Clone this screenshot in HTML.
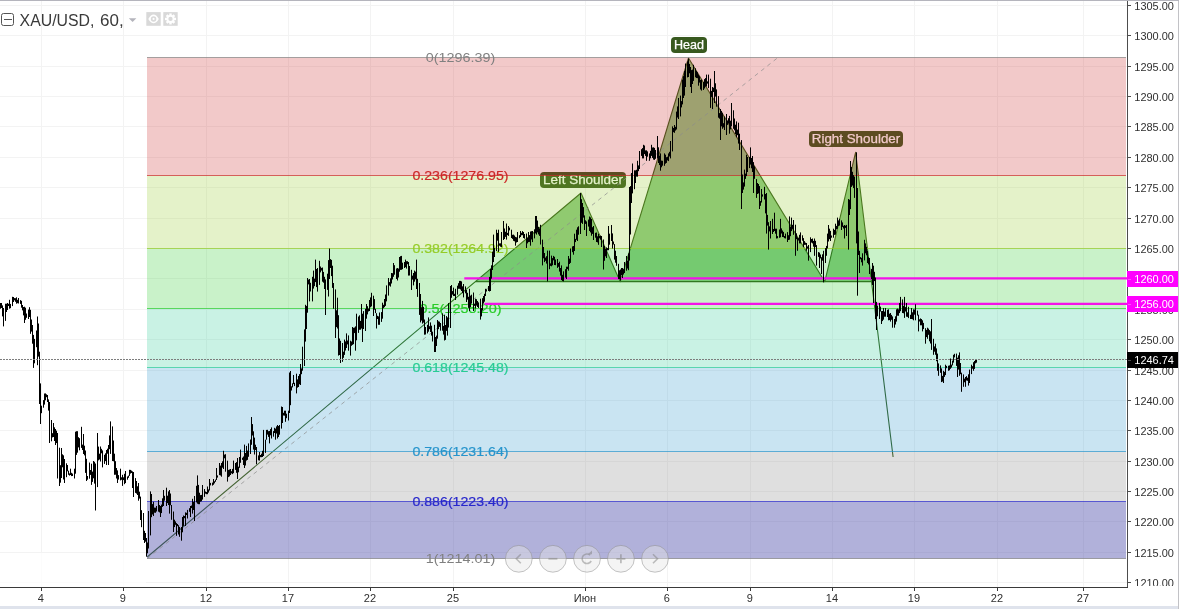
<!DOCTYPE html>
<html><head><meta charset="utf-8"><title>XAU/USD</title>
<style>html,body{margin:0;padding:0;background:#fff;overflow:hidden}body{width:1179px;height:609px;font-family:"Liberation Sans",sans-serif}svg{display:block;will-change:transform}</style>
</head><body>
<svg width="1179" height="609" viewBox="0 0 1179 609" shape-rendering="auto">
<rect x="0" y="0" width="1179" height="609" fill="#ffffff"/>
<path d="M41.5 1V587 M123.5 1V587 M206.5 1V587 M288.5 1V587 M370.5 1V587 M453.5 1V587 M585.5 1V587 M667.5 1V587 M750.5 1V587 M832.5 1V587 M914.5 1V587 M997.5 1V587 M1083.5 1V587 M0 582.5H1127 M0 552.5H1127 M0 521.5H1127 M0 491.5H1127 M0 461.5H1127 M0 430.5H1127 M0 400.5H1127 M0 370.5H1127 M0 339.5H1127 M0 309.5H1127 M0 278.5H1127 M0 248.5H1127 M0 218.5H1127 M0 187.5H1127 M0 157.5H1127 M0 126.5H1127 M0 96.5H1127 M0 66.5H1127 M0 35.5H1127 M0 5.5H1127" stroke="#f3f3f3" stroke-width="1" fill="none" shape-rendering="crispEdges"/>
<g>
<path d="M475.3 281.7L581.0 193.0L620.2 281.7L688.5 58.0L824.8 281.7L855.6 152.3L871.5 281.7Z" fill="#8fca88"/>
<path d="M147.2 557.0L581.0 193.0L620.2 281.7L688.5 58.0L824.8 281.7L855.6 152.3L893.1 457.0" fill="none" stroke="#335c1c" stroke-width="1.1" stroke-linejoin="round"/>
<path d="M475.3 281.7H871.5" stroke="#335c1c" stroke-width="1.2" fill="none"/>
<rect x="671" y="37" width="36" height="16" rx="4" ry="4" fill="#38591f"/>
<text x="689.0" y="49.4" font-family="Liberation Sans, sans-serif" font-size="12.5" fill="#ffffff" stroke="#ffffff" stroke-width="0.25" text-anchor="middle" textLength="30" lengthAdjust="spacingAndGlyphs">Head</text>
<rect x="540" y="172" width="86" height="16" rx="4" ry="4" fill="#38591f"/>
<text x="583.0" y="184.4" font-family="Liberation Sans, sans-serif" font-size="12.5" fill="#ffffff" stroke="#ffffff" stroke-width="0.25" text-anchor="middle" textLength="80" lengthAdjust="spacingAndGlyphs">Left Shoulder</text>
<rect x="809" y="131" width="94" height="16" rx="4" ry="4" fill="#38591f"/>
<text x="856.0" y="143.4" font-family="Liberation Sans, sans-serif" font-size="12.5" fill="#ffffff" stroke="#ffffff" stroke-width="0.25" text-anchor="middle" textLength="88.5" lengthAdjust="spacingAndGlyphs">Right Shoulder</text>
</g>
<rect x="0" y="553" width="146" height="34" fill="rgba(255,255,255,0.7)"/>
<rect x="147" y="57.50" width="979" height="118.00" fill="rgba(204,40,40,0.25)"/>
<rect x="147" y="175.50" width="979" height="73.00" fill="rgba(149,204,40,0.25)"/>
<rect x="147" y="248.50" width="979" height="60.00" fill="rgba(40,204,40,0.25)"/>
<rect x="147" y="308.50" width="979" height="59.00" fill="rgba(40,204,149,0.25)"/>
<rect x="147" y="367.50" width="979" height="84.00" fill="rgba(40,149,204,0.25)"/>
<rect x="147" y="451.50" width="979" height="107.00" fill="rgba(128,128,128,0.25)"/>
<rect x="147" y="501.50" width="979" height="57.00" fill="rgba(40,40,204,0.25)"/>
<path d="M147.2 558.5L778 57.5" stroke="#8c8c8c" stroke-opacity="0.7" stroke-width="1" stroke-dasharray="4 4" fill="none"/>
<path d="M147 57.5H1126" stroke="rgba(128,128,128,0.7)" stroke-width="1" fill="none" shape-rendering="crispEdges"/>
<path d="M147 175.5H1126" stroke="rgba(204,40,40,0.7)" stroke-width="1" fill="none" shape-rendering="crispEdges"/>
<path d="M147 248.5H1126" stroke="rgba(149,204,40,0.7)" stroke-width="1" fill="none" shape-rendering="crispEdges"/>
<path d="M147 308.5H1126" stroke="rgba(40,204,40,0.7)" stroke-width="1" fill="none" shape-rendering="crispEdges"/>
<path d="M147 367.5H1126" stroke="rgba(40,204,149,0.7)" stroke-width="1" fill="none" shape-rendering="crispEdges"/>
<path d="M147 451.5H1126" stroke="rgba(40,149,204,0.7)" stroke-width="1" fill="none" shape-rendering="crispEdges"/>
<path d="M147 558.5H1126" stroke="rgba(128,128,128,0.7)" stroke-width="1" fill="none" shape-rendering="crispEdges"/>
<path d="M147 501.5H1126" stroke="rgba(40,40,204,0.7)" stroke-width="1" fill="none" shape-rendering="crispEdges"/>
<text x="460.5" y="62.3" font-family="Liberation Sans, sans-serif" font-size="13" fill="rgb(128,128,128)" stroke="rgb(128,128,128)" stroke-width="0.0" text-anchor="middle" textLength="69.5" lengthAdjust="spacingAndGlyphs">0(1296.39)</text>
<text x="460.5" y="180.3" font-family="Liberation Sans, sans-serif" font-size="13" fill="rgb(204,40,40)" stroke="rgb(204,40,40)" stroke-width="0.2" text-anchor="middle" textLength="96.2" lengthAdjust="spacingAndGlyphs">0.236(1276.95)</text>
<text x="460.5" y="253.3" font-family="Liberation Sans, sans-serif" font-size="13" fill="rgb(149,204,40)" stroke="rgb(149,204,40)" stroke-width="0.2" text-anchor="middle" textLength="96.2" lengthAdjust="spacingAndGlyphs">0.382(1264.92)</text>
<text x="460.5" y="313.3" font-family="Liberation Sans, sans-serif" font-size="13" fill="rgb(40,204,40)" stroke="rgb(40,204,40)" stroke-width="0.2" text-anchor="middle" textLength="82" lengthAdjust="spacingAndGlyphs">0.5(1255.20)</text>
<text x="460.5" y="372.3" font-family="Liberation Sans, sans-serif" font-size="13" fill="rgb(40,204,149)" stroke="rgb(40,204,149)" stroke-width="0.2" text-anchor="middle" textLength="96.2" lengthAdjust="spacingAndGlyphs">0.618(1245.48)</text>
<text x="460.5" y="456.3" font-family="Liberation Sans, sans-serif" font-size="13" fill="rgb(40,149,204)" stroke="rgb(40,149,204)" stroke-width="0.2" text-anchor="middle" textLength="96.2" lengthAdjust="spacingAndGlyphs">0.786(1231.64)</text>
<text x="460.5" y="563.3" font-family="Liberation Sans, sans-serif" font-size="13" fill="rgb(128,128,128)" stroke="rgb(128,128,128)" stroke-width="0.0" text-anchor="middle" textLength="69.5" lengthAdjust="spacingAndGlyphs">1(1214.01)</text>
<text x="460.5" y="506.3" font-family="Liberation Sans, sans-serif" font-size="13" fill="rgb(40,40,204)" stroke="rgb(40,40,204)" stroke-width="0.2" text-anchor="middle" textLength="96.2" lengthAdjust="spacingAndGlyphs">0.886(1223.40)</text>
<path d="M464.3 278.4H1127" stroke="#f312e8" stroke-width="2.2" fill="none"/>
<path d="M484.5 303.8H1127" stroke="#f312e8" stroke-width="2.2" fill="none"/>
<path d="M0.5 303.0V308.7M1.5 303.0V308.0M2.5 305.4V316.4M3.5 308.0V326.4M5.5 303.7V320.9M6.5 303.7V312.0M7.5 303.0V310.0M8.5 303.8V306.0M9.5 299.8V308.7M10.5 303.9V308.2M12.5 296.8V306.1M13.5 297.0V302.0M14.5 298.1V300.3M15.5 298.2V301.8M16.5 297.3V303.7M17.5 299.8V303.2M18.5 298.0V303.5M20.5 300.1V303.9M21.5 300.8V307.7M22.5 305.0V310.4M23.5 307.0V315.4M24.5 306.7V323.0M25.5 307.7V319.8M26.5 313.5V317.8M28.5 309.6V319.0M29.5 307.2V317.0M30.5 309.8V333.8M31.5 319.5V331.6M32.5 325.0V343.7M33.5 334.9V367.9M34.5 338.9V363.3M36.5 330.5V347.2M37.5 316.5V365.2M38.5 323.5V356.6M39.5 351.7V404.0M40.5 383.4V424.0M41.5 405.7V413.2M43.5 400.1V407.7M44.5 393.5V404.6M45.5 393.4V400.3M46.5 394.3V397.2M47.5 395.0V402.0M48.5 399.4V410.6M49.5 402.0V443.0M51.5 420.0V441.3M52.5 433.2V437.4M53.5 423.0V437.0M54.5 427.3V441.0M55.5 429.0V445.0M56.5 430.7V443.1M57.5 433.0V478.5M59.5 447.7V486.0M60.5 465.2V482.7M61.5 448.0V478.0M62.5 454.3V467.3M63.5 455.3V479.5M64.5 459.0V483.0M66.5 463.3V477.2M67.5 465.0V471.3M68.5 470.7V474.8M69.5 473.4V475.6M70.5 468.7V475.0M71.5 472.8V476.1M72.5 473.6V476.0M74.5 468.7V478.5M75.5 431.7V473.7M76.5 431.2V454.9M77.5 431.2V452.7M78.5 437.2V447.4M79.5 438.2V450.3M81.5 426.8V447.9M82.5 444.6V450.0M83.5 434.0V454.0M84.5 445.7V455.4M85.5 450.5V472.9M86.5 458.8V481.0M87.5 476.0V479.7M89.5 462.5V478.7M90.5 470.0V474.9M91.5 463.7V484.9M92.5 471.6V481.9M93.5 461.0V478.3M94.5 461.8V483.6M95.5 463.5V510.5M97.5 433.0V487.1M98.5 446.6V460.4M99.5 453.7V459.5M100.5 446.5V461.5M101.5 448.8V453.3M102.5 450.4V467.4M104.5 454.8V463.9M105.5 453.3V461.1M106.5 450.0V465.0M107.5 448.7V453.7M108.5 445.0V465.0M109.5 435.4V449.2M110.5 421.4V453.9M112.5 426.4V461.0M113.5 440.5V461.3M114.5 453.7V474.8M115.5 461.2V474.7M116.5 468.0V478.5M117.5 470.4V483.0M118.5 475.1V479.6M120.5 468.7V480.4M121.5 477.3V479.8M122.5 474.8V485.9M123.5 477.3V480.1M124.5 473.8V484.2M125.5 471.0V483.1M127.5 476.5V479.7M128.5 475.6V477.8M129.5 469.8V475.9M130.5 469.9V473.6M131.5 470.6V473.0M132.5 471.4V488.0M133.5 472.0V497.0M135.5 478.1V492.9M136.5 481.0V493.6M137.5 486.3V495.0M138.5 483.0V500.7M139.5 491.7V498.6M140.5 496.6V520.0M141.5 510.2V527.2M143.5 513.0V540.0M144.5 530.8V543.0M145.5 533.0V541.7M146.5 538.0V556.7M147.5 542.5V553.3M148.5 511.0V548.5M150.5 491.4V535.4M151.5 494.0V517.2M152.5 504.1V514.5M153.5 501.8V516.0M154.5 507.6V512.7M155.5 507.7V512.8M156.5 506.0V511.5M158.5 500.0V511.7M159.5 505.0V512.4M160.5 506.0V517.0M161.5 504.6V513.1M162.5 498.3V506.9M163.5 490.0V506.0M164.5 495.8V500.7M166.5 487.7V506.0M167.5 495.7V503.1M168.5 491.4V505.0M169.5 490.0V513.6M170.5 493.5V505.3M171.5 505.0V519.8M173.5 511.5V532.0M174.5 519.7V527.1M175.5 521.4V524.8M176.5 523.1V535.8M177.5 524.0V526.2M178.5 525.2V534.5M179.5 526.9V536.8M181.5 527.0V540.7M182.5 517.0V532.3M183.5 515.5V525.9M184.5 516.0V518.2M185.5 512.4V526.0M186.5 512.8V515.0M187.5 509.9V518.5M189.5 508.2V511.8M190.5 506.0V517.0M191.5 505.5V508.1M192.5 498.8V513.6M193.5 501.9V510.0M194.5 496.0V521.0M196.5 485.8V502.4M197.5 475.4V503.7M198.5 484.9V504.2M199.5 492.7V504.2M200.5 495.1V501.7M201.5 494.9V501.3M202.5 485.0V499.6M204.5 489.0V496.9M205.5 491.5V493.7M206.5 492.0V494.2M207.5 486.5V494.2M208.5 489.4V492.6M209.5 479.0V490.5M210.5 482.9V485.4M212.5 482.6V485.6M213.5 479.0V484.8M214.5 481.2V483.4M215.5 479.6V481.8M216.5 468.0V480.0M217.5 475.4V477.6M219.5 463.0V475.1M220.5 465.6V475.5M221.5 463.0V476.7M222.5 461.3V467.7M223.5 450.8V469.0M224.5 454.6V458.3M225.5 454.2V471.7M227.5 460.7V481.6M228.5 469.9V477.1M229.5 469.5V476.4M230.5 469.0V475.0M231.5 471.2V473.4M232.5 468.9V474.1M233.5 460.6V473.2M235.5 463.0V469.9M236.5 462.1V472.8M237.5 458.0V479.0M238.5 466.7V472.3M239.5 457.0V467.8M240.5 449.6V462.8M242.5 457.7V459.9M243.5 456.5V465.0M244.5 444.6V468.0M245.5 453.0V465.5M246.5 445.9V460.6M247.5 450.6V459.9M248.5 443.4V456.8M250.5 439.5V454.0M251.5 417.0V444.8M252.5 424.1V435.5M253.5 431.3V449.6M254.5 437.6V454.5M255.5 444.7V450.0M256.5 447.0V464.3M258.5 455.4V460.3M259.5 452.0V460.6M260.5 455.0V457.2M261.5 453.7V457.2M262.5 450.8V457.0M263.5 429.9V456.0M265.5 439.7V452.9M266.5 429.9V439.7M267.5 429.8V434.6M268.5 431.2V436.9M269.5 431.0V443.4M270.5 429.1V435.3M271.5 427.4V438.5M273.5 431.1V436.7M274.5 427.8V433.0M275.5 428.6V439.7M276.5 426.4V433.5M277.5 425.0V438.5M278.5 426.0V437.0M279.5 425.0V434.7M281.5 406.5V428.6M282.5 407.0V423.0M283.5 412.8V415.5M284.5 410.7V415.7M285.5 410.7V421.8M286.5 413.7V418.2M288.5 410.7V420.5M289.5 372.5V413.0M290.5 371.0V405.2M291.5 386.3V390.5M292.5 383.3V387.4M293.5 375.0V384.1M294.5 382.8V386.1M296.5 373.7V393.4M297.5 379.4V387.7M298.5 376.0V387.0M299.5 374.1V384.3M300.5 364.0V385.0M301.5 368.4V374.2M302.5 346.7V370.7M304.5 329.4V366.0M305.5 304.8V341.6M306.5 305.9V329.0M307.5 278.0V312.7M308.5 279.6V284.4M309.5 279.0V301.4M310.5 282.8V291.5M312.5 276.8V301.4M313.5 270.6V288.6M314.5 278.6V286.2M315.5 259.6V282.1M316.5 269.0V287.1M317.5 268.0V291.6M319.5 260.8V284.9M320.5 266.5V272.4M321.5 267.9V270.6M322.5 267.5V281.7M323.5 271.9V282.7M324.5 276.8V289.0M325.5 279.4V315.0M327.5 273.7V289.9M328.5 260.1V296.5M329.5 248.5V279.0M330.5 259.1V268.0M331.5 259.9V276.1M332.5 265.7V287.9M333.5 283.0V308.8M335.5 289.4V338.0M336.5 310.3V327.1M337.5 297.7V328.5M338.5 315.2V355.6M339.5 338.5V355.0M340.5 340.8V363.0M342.5 343.0V361.8M343.5 351.7V357.8M344.5 339.6V354.9M345.5 341.4V350.5M346.5 333.4V348.0M347.5 340.5V344.4M348.5 335.4V350.7M350.5 340.7V355.6M351.5 341.5V345.8M352.5 327.0V344.9M353.5 327.8V344.2M354.5 327.5V333.1M355.5 326.4V350.7M356.5 313.7V340.3M358.5 316.5V332.9M359.5 315.3V329.8M360.5 320.9V329.7M361.5 304.0V328.5M362.5 313.7V342.0M363.5 311.1V329.0M365.5 308.8V331.0M366.5 304.0V318.7M367.5 306.2V314.4M368.5 308.6V311.5M369.5 300.0V311.0M370.5 297.4V307.3M371.5 292.8V306.4M373.5 295.7V316.0M374.5 299.1V309.7M375.5 308.9V313.1M376.5 313.2V328.5M377.5 315.8V319.0M378.5 316.4V324.8M379.5 312.5V324.8M381.5 312.1V321.9M382.5 302.7V318.7M383.5 304.8V308.2M384.5 299.0V307.2M385.5 294.5V305.9M386.5 285.4V301.4M388.5 278.0V295.6M389.5 282.1V285.6M390.5 278.3V286.6M391.5 273.0V283.5M392.5 273.2V279.5M393.5 263.0V276.8M394.5 265.2V274.7M396.5 268.5V279.0M397.5 268.0V280.5M398.5 268.6V277.5M399.5 257.0V271.7M400.5 256.2V269.9M401.5 255.9V269.8M402.5 262.7V269.2M404.5 262.0V268.0M405.5 259.6V267.2M406.5 261.2V268.6M407.5 261.2V264.2M408.5 262.0V275.6M409.5 266.0V275.5M411.5 269.8V290.0M412.5 275.6V279.6M413.5 273.0V285.4M414.5 270.6V281.7M415.5 271.6V279.4M416.5 259.6V289.0M417.5 278.8V296.9M419.5 283.0V314.9M420.5 294.0V322.4M421.5 307.3V320.6M422.5 300.9V323.6M423.5 306.9V322.6M424.5 319.5V334.7M425.5 327.0V334.5M427.5 324.8V333.4M428.5 317.4V331.7M429.5 326.2V329.2M430.5 322.4V332.0M431.5 325.7V335.6M432.5 331.7V341.5M434.5 324.8V352.0M435.5 337.0V352.0M436.5 335.6V346.0M437.5 320.0V338.7M438.5 321.3V329.2M439.5 321.7V326.9M440.5 323.0V330.7M442.5 313.4V330.7M443.5 325.9V334.6M444.5 314.7V340.5M445.5 325.0V339.9M446.5 316.1V330.9M447.5 317.4V335.6M448.5 303.1V327.5M450.5 286.0V328.0M451.5 285.0V297.8M452.5 291.1V294.6M453.5 287.6V296.0M454.5 293.8V296.0M455.5 288.8V300.0M457.5 285.7V294.7M458.5 283.2V288.8M459.5 280.9V288.8M460.5 280.9V289.5M461.5 281.4V291.0M462.5 286.3V293.1M463.5 284.0V297.4M465.5 286.4V293.3M466.5 290.0V302.0M467.5 292.8V299.6M468.5 296.8V307.9M469.5 288.8V311.0M470.5 295.6V307.1M471.5 294.7V303.6M473.5 292.5V311.0M474.5 303.7V305.9M475.5 298.7V308.5M476.5 299.2V305.6M477.5 301.0V307.0M478.5 302.4V308.0M480.5 298.7V319.6M481.5 308.1V316.4M482.5 298.2V310.5M483.5 296.0V303.6M484.5 293.8V301.7M485.5 288.8V296.0M486.5 289.3V291.5M488.5 286.0V291.0M489.5 276.9V291.5M490.5 269.0V291.0M491.5 265.3V278.7M492.5 251.7V270.0M493.5 234.6V262.1M494.5 248.0V257.0M496.5 229.7V251.1M497.5 232.9V240.7M498.5 229.7V251.9M499.5 243.4V245.7M500.5 243.3V246.7M501.5 232.0V247.0M503.5 221.0V240.0M504.5 228.5V239.0M505.5 231.8V236.9M506.5 223.5V239.6M507.5 232.9V235.1M508.5 226.0V235.9M509.5 227.6V230.4M511.5 229.7V238.0M512.5 234.8V238.9M513.5 234.6V240.8M514.5 235.5V241.3M515.5 236.9V245.7M516.5 237.3V242.5M517.5 232.0V242.0M519.5 235.2V238.2M520.5 231.0V237.0M521.5 232.8V235.3M522.5 231.1V235.2M523.5 232.0V238.0M524.5 234.0V238.7M526.5 233.5V248.0M527.5 237.9V243.4M528.5 232.0V242.1M529.5 235.2V241.9M530.5 231.5V245.7M531.5 231.2V239.5M532.5 231.0V242.1M534.5 229.3V238.4M535.5 216.0V233.4M536.5 216.0V234.6M537.5 220.6V232.4M538.5 226.8V234.4M539.5 228.5V235.9M540.5 224.8V244.5M542.5 239.6V265.4M543.5 247.0V258.3M544.5 253.0V262.1M545.5 257.6V260.8M546.5 256.2V263.6M547.5 250.6V281.4M549.5 250.6V269.2M550.5 263.4V265.9M551.5 255.6V266.3M552.5 258.1V265.3M553.5 255.9V260.3M554.5 256.8V265.0M555.5 259.5V265.2M557.5 259.0V267.9M558.5 263.0V266.8M559.5 261.7V271.6M560.5 268.0V275.6M561.5 265.4V280.1M562.5 274.8V281.0M563.5 271.3V281.4M565.5 269.2V277.6M566.5 266.7V279.0M567.5 266.7V269.1M568.5 256.0V270.7M569.5 258.6V264.0M570.5 248.5V262.9M572.5 246.4V252.2M573.5 246.0V254.7M574.5 233.7V251.0M575.5 238.9V242.1M576.5 229.7V239.8M577.5 227.3V241.0M578.5 226.3V234.7M580.5 193.0V234.0M581.5 199.2V222.8M582.5 203.0V223.9M583.5 207.1V217.6M584.5 215.4V230.0M585.5 220.3V223.9M586.5 221.4V236.0M588.5 219.6V226.6M589.5 216.5V231.0M590.5 217.4V232.4M591.5 219.0V235.7M592.5 227.2V233.9M593.5 226.0V240.0M595.5 232.8V237.7M596.5 232.5V242.0M597.5 236.3V242.4M598.5 233.7V244.8M599.5 236.0V238.3M600.5 235.6V239.7M601.5 236.0V247.0M603.5 239.5V269.5M604.5 246.0V260.8M605.5 248.8V256.3M606.5 247.4V258.0M607.5 248.1V250.3M608.5 226.0V250.2M609.5 233.7V244.7M611.5 225.0V241.0M612.5 233.4V248.5M613.5 241.5V244.5M614.5 244.1V259.6M615.5 250.7V262.7M616.5 256.0V265.8M618.5 263.8V279.0M619.5 270.3V279.3M620.5 269.5V280.5M621.5 268.0V275.2M622.5 268.0V278.0M623.5 269.1V274.5M624.5 262.0V273.0M626.5 256.0V270.7M627.5 260.7V268.5M628.5 253.4V270.2M629.5 187.0V260.6M630.5 186.1V234.5M631.5 173.0V203.0M632.5 163.5V193.4M634.5 170.3V189.2M635.5 170.4V183.0M636.5 169.9V176.6M637.5 160.8V176.7M638.5 165.4V171.2M639.5 151.0V169.0M641.5 149.2V155.9M642.5 148.1V158.4M643.5 144.8V158.4M644.5 145.5V154.1M645.5 150.4V155.9M646.5 150.3V160.8M647.5 151.4V156.7M649.5 153.4V160.8M650.5 150.8V158.2M651.5 144.8V155.9M652.5 147.5V157.9M653.5 147.3V159.6M654.5 147.9V159.9M655.5 150.0V158.8M657.5 136.0V158.4M658.5 147.3V163.0M659.5 155.7V165.1M660.5 153.4V170.7M661.5 160.6V167.3M662.5 160.8V165.7M664.5 153.4V165.8M665.5 154.7V163.7M666.5 157.2V162.9M667.5 156.7V160.4M668.5 153.4V161.1M669.5 151.8V156.5M670.5 141.0V158.4M672.5 126.4V151.4M673.5 128.0V132.2M674.5 125.0V132.8M675.5 126.8V130.6M676.5 111.6V129.5M677.5 106.4V117.5M678.5 98.0V119.0M680.5 95.6V116.4M681.5 101.1V107.4M682.5 79.6V104.4M683.5 76.1V98.0M684.5 71.0V95.6M685.5 63.5V87.0M687.5 61.4V77.4M688.5 58.6V77.0M689.5 63.9V73.3M690.5 67.0V87.0M691.5 70.1V93.0M692.5 69.6V84.0M693.5 64.8V80.9M695.5 68.3V77.3M696.5 71.0V78.0M697.5 72.2V78.2M698.5 74.6V85.7M699.5 76.2V82.6M700.5 79.9V89.5M701.5 79.6V90.6M703.5 82.0V90.0M704.5 79.1V88.5M705.5 78.1V86.7M706.5 74.6V86.5M707.5 81.4V83.6M708.5 74.6V88.1M710.5 78.7V107.9M711.5 90.9V96.9M712.5 87.0V109.0M713.5 87.7V92.0M714.5 71.0V103.0M715.5 83.3V96.6M716.5 89.4V106.7M718.5 96.1V117.7M719.5 113.1V118.7M720.5 109.0V140.0M721.5 111.0V126.4M722.5 112.8V128.8M723.5 123.2V127.4M724.5 116.5V130.0M726.5 114.0V135.0M727.5 120.5V124.9M728.5 118.2V123.4M729.5 115.9V133.7M730.5 120.7V129.4M731.5 103.0V126.4M733.5 110.3V128.8M734.5 118.5V130.3M735.5 124.7V134.0M736.5 121.4V137.3M737.5 129.6V135.2M738.5 122.7V143.6M739.5 133.7V150.0M741.5 140.1V209.0M742.5 174.5V193.0M743.5 182.4V189.6M744.5 169.6V186.6M745.5 173.6V178.9M746.5 154.8V176.1M747.5 157.0V172.0M749.5 157.0V168.1M750.5 147.4V164.6M751.5 158.0V168.3M752.5 156.0V172.0M753.5 162.1V193.0M754.5 166.3V178.8M756.5 179.1V197.9M757.5 183.0V194.0M758.5 184.0V193.4M759.5 186.1V209.0M760.5 201.1V205.8M761.5 189.0V202.5M762.5 194.4V196.6M764.5 186.8V199.5M765.5 194.0V213.4M766.5 193.0V233.6M767.5 214.9V225.6M768.5 222.2V249.6M769.5 226.3V231.4M770.5 221.0V238.5M772.5 218.8V234.0M773.5 229.0V232.0M774.5 212.7V231.0M775.5 228.7V233.7M776.5 228.7V238.5M777.5 236.1V238.3M779.5 229.5V237.8M780.5 218.8V237.3M781.5 228.4V233.5M782.5 230.5V237.0M783.5 231.9V237.2M784.5 236.0V238.2M785.5 233.6V238.5M787.5 232.1V242.0M788.5 235.2V240.0M789.5 216.4V239.7M790.5 226.8V236.2M791.5 217.6V231.1M792.5 224.8V228.9M793.5 220.0V234.8M795.5 224.7V255.8M796.5 233.3V239.2M797.5 237.3V250.8M798.5 238.1V240.5M799.5 234.8V243.4M800.5 232.4V243.4M802.5 235.3V240.7M803.5 238.1V247.0M804.5 241.1V244.9M805.5 242.6V244.8M806.5 243.0V250.8M807.5 246.4V248.6M808.5 245.0V260.7M810.5 237.3V252.1M811.5 239.0V242.6M812.5 238.5V243.4M813.5 240.9V246.7M814.5 238.5V255.8M815.5 240.8V247.1M816.5 245.1V265.6M818.5 252.1V256.9M819.5 252.6V268.0M820.5 254.5V258.4M821.5 257.2V274.0M822.5 254.3V260.7M823.5 250.8V282.4M825.5 248.1V263.0M826.5 245.9V255.8M827.5 233.6V248.4M828.5 225.0V241.5M829.5 228.7V239.2M830.5 230.9V241.0M831.5 235.5V237.7M833.5 228.7V237.7M834.5 229.9V234.9M835.5 223.7V234.7M836.5 225.9V229.3M837.5 217.6V228.8M838.5 220.4V226.0M839.5 218.8V225.6M841.5 220.4V230.0M842.5 222.4V226.9M843.5 225.8V228.5M844.5 225.0V238.5M845.5 225.7V227.9M846.5 224.9V236.0M848.5 199.0V249.6M849.5 199.7V215.0M850.5 161.0V209.1M851.5 167.0V186.9M852.5 171.8V185.5M853.5 175.1V188.1M854.5 176.6V197.9M856.5 152.3V243.4M857.5 188.0V295.7M858.5 231.5V255.0M859.5 250.8V273.0M860.5 257.1V259.3M861.5 257.8V262.3M862.5 253.3V265.6M864.5 239.8V260.4M865.5 243.4V253.3M866.5 246.8V255.3M867.5 250.8V263.0M868.5 257.2V264.4M869.5 258.0V274.0M871.5 268.9V279.1M872.5 263.0V285.0M873.5 265.7V303.0M874.5 271.8V281.1M875.5 277.5V319.0M876.5 301.9V330.0M877.5 305.6V316.3M879.5 303.0V319.0M880.5 306.6V311.5M881.5 311.1V324.0M882.5 311.0V321.1M883.5 308.0V319.7M884.5 311.6V316.7M885.5 308.0V316.7M887.5 309.8V317.0M888.5 309.3V320.3M889.5 313.7V320.1M890.5 313.0V321.6M891.5 314.9V319.8M892.5 316.4V327.7M894.5 319.0V327.7M895.5 316.3V324.5M896.5 309.3V321.6M897.5 308.6V315.7M898.5 309.3V315.8M899.5 303.0V313.1M900.5 296.9V311.2M902.5 299.4V313.0M903.5 305.8V313.3M904.5 296.9V317.9M905.5 307.1V311.5M906.5 303.0V316.7M907.5 312.3V316.9M908.5 306.8V318.1M910.5 314.8V319.0M911.5 308.0V319.0M912.5 312.3V319.3M913.5 309.3V320.3M914.5 309.5V314.7M915.5 304.3V320.3M917.5 310.6V315.5M918.5 314.7V331.4M919.5 319.3V321.5M920.5 318.4V325.3M921.5 319.0V325.3M922.5 320.3V331.4M923.5 322.9V329.1M925.5 328.2V343.7M926.5 329.9V337.1M927.5 327.7V338.8M928.5 328.6V334.8M929.5 330.1V341.3M930.5 331.3V343.5M931.5 319.0V349.9M933.5 338.8V354.8M934.5 346.4V351.7M935.5 343.7V354.8M936.5 348.4V361.2M937.5 353.6V370.8M938.5 363.4V375.8M940.5 365.4V372.8M941.5 368.4V382.1M942.5 375.9V381.6M943.5 370.8V383.0M944.5 371.8V376.9M945.5 364.7V375.1M946.5 365.9V368.2M948.5 365.7V370.8M949.5 365.4V370.3M950.5 358.5V368.8M951.5 364.6V367.6M952.5 360.6V365.4M953.5 354.8V362.6M954.5 353.8V357.4M956.5 353.6V365.9M957.5 357.7V377.0M958.5 355.3V369.6M959.5 352.4V375.8M960.5 363.0V374.2M961.5 372.7V391.8M963.5 374.4V386.8M964.5 378.6V382.3M965.5 377.0V386.8M966.5 376.1V380.5M967.5 377.7V380.8M968.5 374.3V385.6M969.5 369.6V383.0M971.5 364.7V374.1M972.5 366.2V368.7M973.5 362.2V370.8M974.5 361.0V368.9M975.5 359.8V363.4M976.5 360.0V362.7" stroke="#000" stroke-width="1" fill="none"/>
<path d="M0 359.5H1127" stroke="#7d7d7d" stroke-width="1" stroke-dasharray="2 1" fill="none" shape-rendering="crispEdges"/>
<rect x="1127" y="1" width="52" height="586" fill="#ffffff"/>
<rect x="1127" y="1" width="1" height="587" fill="#4d4d4d" shape-rendering="crispEdges"/>
<g clip-path="url(#axclip)">
<path d="M1128 582.5H1131" stroke="#4d4d4d" stroke-width="1" shape-rendering="crispEdges"/>
<text x="1134.3" y="586.9" font-family="Liberation Sans, sans-serif" font-size="11" fill="#303030" textLength="39.6" lengthAdjust="spacingAndGlyphs">1210.00</text>
<path d="M1128 552.5H1131" stroke="#4d4d4d" stroke-width="1" shape-rendering="crispEdges"/>
<text x="1134.3" y="556.9" font-family="Liberation Sans, sans-serif" font-size="11" fill="#303030" textLength="39.6" lengthAdjust="spacingAndGlyphs">1215.00</text>
<path d="M1128 521.5H1131" stroke="#4d4d4d" stroke-width="1" shape-rendering="crispEdges"/>
<text x="1134.3" y="525.9" font-family="Liberation Sans, sans-serif" font-size="11" fill="#303030" textLength="39.6" lengthAdjust="spacingAndGlyphs">1220.00</text>
<path d="M1128 491.5H1131" stroke="#4d4d4d" stroke-width="1" shape-rendering="crispEdges"/>
<text x="1134.3" y="495.9" font-family="Liberation Sans, sans-serif" font-size="11" fill="#303030" textLength="39.6" lengthAdjust="spacingAndGlyphs">1225.00</text>
<path d="M1128 461.5H1131" stroke="#4d4d4d" stroke-width="1" shape-rendering="crispEdges"/>
<text x="1134.3" y="465.9" font-family="Liberation Sans, sans-serif" font-size="11" fill="#303030" textLength="39.6" lengthAdjust="spacingAndGlyphs">1230.00</text>
<path d="M1128 430.5H1131" stroke="#4d4d4d" stroke-width="1" shape-rendering="crispEdges"/>
<text x="1134.3" y="434.9" font-family="Liberation Sans, sans-serif" font-size="11" fill="#303030" textLength="39.6" lengthAdjust="spacingAndGlyphs">1235.00</text>
<path d="M1128 400.5H1131" stroke="#4d4d4d" stroke-width="1" shape-rendering="crispEdges"/>
<text x="1134.3" y="404.9" font-family="Liberation Sans, sans-serif" font-size="11" fill="#303030" textLength="39.6" lengthAdjust="spacingAndGlyphs">1240.00</text>
<path d="M1128 370.5H1131" stroke="#4d4d4d" stroke-width="1" shape-rendering="crispEdges"/>
<text x="1134.3" y="374.9" font-family="Liberation Sans, sans-serif" font-size="11" fill="#303030" textLength="39.6" lengthAdjust="spacingAndGlyphs">1245.00</text>
<path d="M1128 339.5H1131" stroke="#4d4d4d" stroke-width="1" shape-rendering="crispEdges"/>
<text x="1134.3" y="343.9" font-family="Liberation Sans, sans-serif" font-size="11" fill="#303030" textLength="39.6" lengthAdjust="spacingAndGlyphs">1250.00</text>
<path d="M1128 309.5H1131" stroke="#4d4d4d" stroke-width="1" shape-rendering="crispEdges"/>
<text x="1134.3" y="313.9" font-family="Liberation Sans, sans-serif" font-size="11" fill="#303030" textLength="39.6" lengthAdjust="spacingAndGlyphs">1255.00</text>
<path d="M1128 278.5H1131" stroke="#4d4d4d" stroke-width="1" shape-rendering="crispEdges"/>
<text x="1134.3" y="282.9" font-family="Liberation Sans, sans-serif" font-size="11" fill="#303030" textLength="39.6" lengthAdjust="spacingAndGlyphs">1260.00</text>
<path d="M1128 248.5H1131" stroke="#4d4d4d" stroke-width="1" shape-rendering="crispEdges"/>
<text x="1134.3" y="252.9" font-family="Liberation Sans, sans-serif" font-size="11" fill="#303030" textLength="39.6" lengthAdjust="spacingAndGlyphs">1265.00</text>
<path d="M1128 218.5H1131" stroke="#4d4d4d" stroke-width="1" shape-rendering="crispEdges"/>
<text x="1134.3" y="222.9" font-family="Liberation Sans, sans-serif" font-size="11" fill="#303030" textLength="39.6" lengthAdjust="spacingAndGlyphs">1270.00</text>
<path d="M1128 187.5H1131" stroke="#4d4d4d" stroke-width="1" shape-rendering="crispEdges"/>
<text x="1134.3" y="191.9" font-family="Liberation Sans, sans-serif" font-size="11" fill="#303030" textLength="39.6" lengthAdjust="spacingAndGlyphs">1275.00</text>
<path d="M1128 157.5H1131" stroke="#4d4d4d" stroke-width="1" shape-rendering="crispEdges"/>
<text x="1134.3" y="161.9" font-family="Liberation Sans, sans-serif" font-size="11" fill="#303030" textLength="39.6" lengthAdjust="spacingAndGlyphs">1280.00</text>
<path d="M1128 126.5H1131" stroke="#4d4d4d" stroke-width="1" shape-rendering="crispEdges"/>
<text x="1134.3" y="130.9" font-family="Liberation Sans, sans-serif" font-size="11" fill="#303030" textLength="39.6" lengthAdjust="spacingAndGlyphs">1285.00</text>
<path d="M1128 96.5H1131" stroke="#4d4d4d" stroke-width="1" shape-rendering="crispEdges"/>
<text x="1134.3" y="100.9" font-family="Liberation Sans, sans-serif" font-size="11" fill="#303030" textLength="39.6" lengthAdjust="spacingAndGlyphs">1290.00</text>
<path d="M1128 66.5H1131" stroke="#4d4d4d" stroke-width="1" shape-rendering="crispEdges"/>
<text x="1134.3" y="70.9" font-family="Liberation Sans, sans-serif" font-size="11" fill="#303030" textLength="39.6" lengthAdjust="spacingAndGlyphs">1295.00</text>
<path d="M1128 35.5H1131" stroke="#4d4d4d" stroke-width="1" shape-rendering="crispEdges"/>
<text x="1134.3" y="39.9" font-family="Liberation Sans, sans-serif" font-size="11" fill="#303030" textLength="39.6" lengthAdjust="spacingAndGlyphs">1300.00</text>
<path d="M1128 5.5H1131" stroke="#4d4d4d" stroke-width="1" shape-rendering="crispEdges"/>
<text x="1134.3" y="9.9" font-family="Liberation Sans, sans-serif" font-size="11" fill="#303030" textLength="39.6" lengthAdjust="spacingAndGlyphs">1305.00</text>
</g>
<defs><clipPath id="axclip"><rect x="1127" y="1" width="52" height="585"/></clipPath></defs>
<rect x="1127" y="271" width="51" height="16" fill="#ff00ff" shape-rendering="crispEdges"/>
<path d="M1128 279.5H1131" stroke="#ffffff" stroke-opacity="0.3" stroke-width="1" shape-rendering="crispEdges"/>
<text x="1134.3" y="283.2" font-family="Liberation Sans, sans-serif" font-size="11" fill="#ffffff" textLength="39.6" lengthAdjust="spacingAndGlyphs">1260.00</text>
<rect x="1127" y="296" width="51" height="16" fill="#ff00ff" shape-rendering="crispEdges"/>
<path d="M1128 304.5H1131" stroke="#ffffff" stroke-opacity="0.3" stroke-width="1" shape-rendering="crispEdges"/>
<text x="1134.3" y="308.2" font-family="Liberation Sans, sans-serif" font-size="11" fill="#ffffff" textLength="39.6" lengthAdjust="spacingAndGlyphs">1256.00</text>
<rect x="1127" y="352" width="51" height="16" fill="#000000" shape-rendering="crispEdges"/>
<path d="M1128 360.5H1131" stroke="#ffffff" stroke-opacity="0.3" stroke-width="1" shape-rendering="crispEdges"/>
<text x="1134.3" y="364.2" font-family="Liberation Sans, sans-serif" font-size="11" fill="#ffffff" textLength="39.6" lengthAdjust="spacingAndGlyphs">1246.74</text>
<rect x="0" y="587" width="1179" height="22" fill="#ffffff"/>
<rect x="0" y="587" width="1128" height="1" fill="#3a3a3a" shape-rendering="crispEdges"/>
<rect x="41" y="588" width="1" height="3" fill="#3a3a3a" shape-rendering="crispEdges"/>
<text x="40.9" y="602" font-family="Liberation Sans, sans-serif" font-size="11" fill="#2e2e2e" text-anchor="middle">4</text>
<rect x="123" y="588" width="1" height="3" fill="#3a3a3a" shape-rendering="crispEdges"/>
<text x="122.9" y="602" font-family="Liberation Sans, sans-serif" font-size="11" fill="#2e2e2e" text-anchor="middle">9</text>
<rect x="206" y="588" width="1" height="3" fill="#3a3a3a" shape-rendering="crispEdges"/>
<text x="205.9" y="602" font-family="Liberation Sans, sans-serif" font-size="11" fill="#2e2e2e" text-anchor="middle">12</text>
<rect x="288" y="588" width="1" height="3" fill="#3a3a3a" shape-rendering="crispEdges"/>
<text x="287.9" y="602" font-family="Liberation Sans, sans-serif" font-size="11" fill="#2e2e2e" text-anchor="middle">17</text>
<rect x="370" y="588" width="1" height="3" fill="#3a3a3a" shape-rendering="crispEdges"/>
<text x="369.9" y="602" font-family="Liberation Sans, sans-serif" font-size="11" fill="#2e2e2e" text-anchor="middle">22</text>
<rect x="453" y="588" width="1" height="3" fill="#3a3a3a" shape-rendering="crispEdges"/>
<text x="452.9" y="602" font-family="Liberation Sans, sans-serif" font-size="11" fill="#2e2e2e" text-anchor="middle">25</text>
<rect x="585" y="588" width="1" height="3" fill="#3a3a3a" shape-rendering="crispEdges"/>
<text x="584.9" y="602" font-family="Liberation Sans, sans-serif" font-size="11" fill="#2e2e2e" text-anchor="middle">Июн</text>
<rect x="667" y="588" width="1" height="3" fill="#3a3a3a" shape-rendering="crispEdges"/>
<text x="666.9" y="602" font-family="Liberation Sans, sans-serif" font-size="11" fill="#2e2e2e" text-anchor="middle">6</text>
<rect x="750" y="588" width="1" height="3" fill="#3a3a3a" shape-rendering="crispEdges"/>
<text x="749.9" y="602" font-family="Liberation Sans, sans-serif" font-size="11" fill="#2e2e2e" text-anchor="middle">9</text>
<rect x="832" y="588" width="1" height="3" fill="#3a3a3a" shape-rendering="crispEdges"/>
<text x="831.9" y="602" font-family="Liberation Sans, sans-serif" font-size="11" fill="#2e2e2e" text-anchor="middle">14</text>
<rect x="914" y="588" width="1" height="3" fill="#3a3a3a" shape-rendering="crispEdges"/>
<text x="913.9" y="602" font-family="Liberation Sans, sans-serif" font-size="11" fill="#2e2e2e" text-anchor="middle">19</text>
<rect x="997" y="588" width="1" height="3" fill="#3a3a3a" shape-rendering="crispEdges"/>
<text x="996.9" y="602" font-family="Liberation Sans, sans-serif" font-size="11" fill="#2e2e2e" text-anchor="middle">22</text>
<rect x="1083" y="588" width="1" height="3" fill="#3a3a3a" shape-rendering="crispEdges"/>
<text x="1082.9" y="602" font-family="Liberation Sans, sans-serif" font-size="11" fill="#2e2e2e" text-anchor="middle">27</text>
<rect x="0" y="606" width="1178" height="3" fill="#dfe3ec"/>
<rect x="1178" y="0" width="1" height="609" fill="#c2c2c6"/>
<rect x="0" y="0" width="1179" height="1" fill="#b5b5bd"/>
<rect x="1.5" y="13.5" width="12" height="12" rx="2" ry="2" fill="#ffffff" stroke="#555555" stroke-width="1"/>
<path d="M3.5 19.5H11.5" stroke="#555555" stroke-width="1" shape-rendering="crispEdges"/>
<text x="19.6" y="25.6" font-family="Liberation Sans, sans-serif" font-size="16" fill="#3a3a3a" textLength="74.8" lengthAdjust="spacingAndGlyphs">XAU/USD,</text>
<text x="100.0" y="25.6" font-family="Liberation Sans, sans-serif" font-size="16" fill="#3a3a3a" textLength="23.6" lengthAdjust="spacingAndGlyphs">60,</text>
<path d="M128.8 18.2H136.4L132.6 22Z" fill="#b4b4bc"/>
<rect x="146.3" y="12.1" width="14.4" height="13.7" fill="#d9d9d9"/>
<path d="M148.3 18.9Q153.55 10.2 158.8 18.9Q153.55 27.6 148.3 18.9Z" fill="#ffffff"/>
<circle cx="153.55" cy="18.9" r="2.75" fill="#d9d9d9"/>
<circle cx="153.55" cy="18.9" r="1.05" fill="#ffffff"/>
<rect x="163.3" y="12.1" width="14.4" height="13.7" fill="#d9d9d9"/>
<rect x="169.30" y="13.45" width="2.4" height="11" fill="#ffffff" transform="rotate(0 170.5 18.95)"/><rect x="169.30" y="13.45" width="2.4" height="11" fill="#ffffff" transform="rotate(45 170.5 18.95)"/><rect x="169.30" y="13.45" width="2.4" height="11" fill="#ffffff" transform="rotate(90 170.5 18.95)"/><rect x="169.30" y="13.45" width="2.4" height="11" fill="#ffffff" transform="rotate(135 170.5 18.95)"/>
<circle cx="170.5" cy="18.95" r="4.0" fill="#ffffff"/>
<circle cx="170.5" cy="18.95" r="2.15" fill="#d9d9d9"/>
<circle cx="518.8" cy="558.8" r="13.4" fill="rgba(230,230,230,0.44)" stroke="rgba(140,140,140,0.5)" stroke-width="1"/>
<circle cx="552.9" cy="558.8" r="13.4" fill="rgba(230,230,230,0.44)" stroke="rgba(140,140,140,0.5)" stroke-width="1"/>
<circle cx="587" cy="558.8" r="13.4" fill="rgba(230,230,230,0.44)" stroke="rgba(140,140,140,0.5)" stroke-width="1"/>
<circle cx="620.9" cy="558.8" r="13.4" fill="rgba(230,230,230,0.44)" stroke="rgba(140,140,140,0.5)" stroke-width="1"/>
<circle cx="655" cy="558.8" r="13.4" fill="rgba(230,230,230,0.44)" stroke="rgba(140,140,140,0.5)" stroke-width="1"/>
<path d="M520.8 554.3L516.3 558.8L520.8 563.3" stroke="rgba(125,125,125,0.48)" stroke-width="1.6" fill="none"/>
<path d="M548.4 558.8H557.4" stroke="rgba(125,125,125,0.48)" stroke-width="1.8" fill="none"/>
<path d="M591.2 561.0A4.8 4.8 0 1 1 590.2 555.1999999999999" stroke="rgba(125,125,125,0.48)" stroke-width="1.6" fill="none"/><path d="M588 554.1999999999999H592V550.5999999999999Z" fill="rgba(125,125,125,0.48)"/>
<path d="M616.4 558.8H625.4M620.9 554.3V563.3" stroke="rgba(125,125,125,0.48)" stroke-width="1.8" fill="none"/>
<path d="M653 554.3L657.5 558.8L653 563.3" stroke="rgba(125,125,125,0.48)" stroke-width="1.6" fill="none"/>
</svg>
</body></html>
